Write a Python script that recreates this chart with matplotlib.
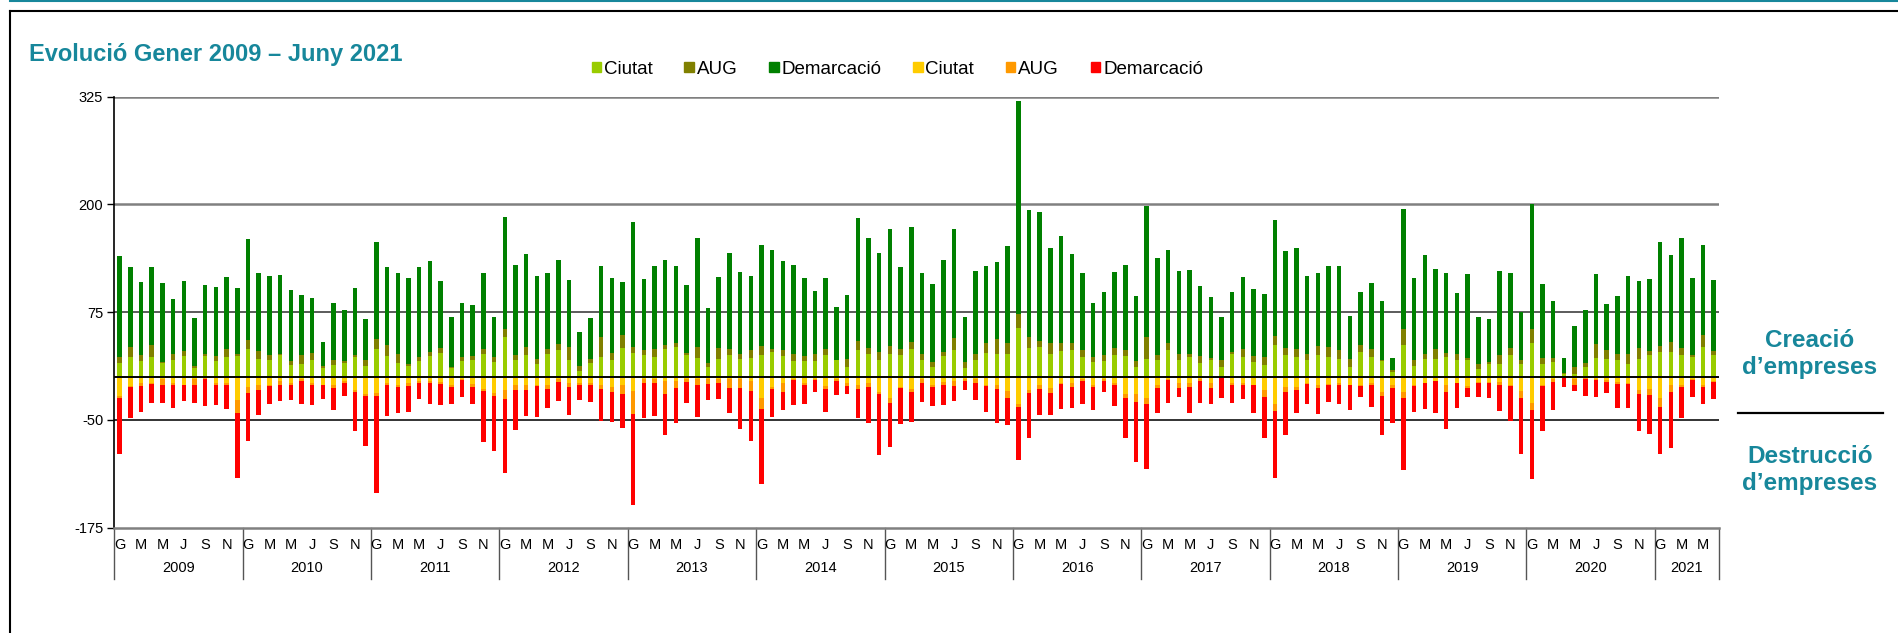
import numpy as np
import matplotlib
matplotlib.use("Agg")
import matplotlib.pyplot as plt
from matplotlib.patches import Patch
from matplotlib.lines import Line2D

plt.rcParams['font.family'] = ['Liberation Sans', 'DejaVu Sans']
plt.rcParams['axes.unicode_minus'] = False

# Data: monthly company creation (positive) and destruction (negative), Jan 2009 - Jun 2021
years = [str(y) for y in range(2009, 2022)]
month_labels = ['G', 'M', 'M', 'J', 'S', 'N']

# creation
ciutat_pos = [16, 23, 18, 23, 16, 20, 24, 10, 24, 18, 23, 24,
              32, 21, 20, 25, 14, 15, 19, 10, 14, 16, 23, 13,
              32, 24, 16, 13, 18, 24, 28, 10, 18, 20, 27, 17,
              46, 20, 25, 15, 27, 31, 19, 7, 16, 23, 19, 34,
              28, 25, 23, 32, 35, 25, 22, 12, 21, 25, 21, 22,
              25, 29, 24, 18, 18, 18, 25, 19, 12, 31, 27, 20,
              27, 25, 32, 20, 12, 24, 31, 10, 20, 28, 27, 27,
              57, 34, 35, 27, 30, 31, 23, 17, 18, 25, 24, 12,
              21, 20, 31, 19, 23, 16, 19, 12, 27, 23, 17, 14,
              37, 25, 23, 19, 25, 23, 21, 12, 29, 23, 18, 6,
              37, 13, 21, 21, 23, 19, 19, 9, 15, 15, 25, 15,
              39, 15, 17, 3, 3, 11, 22, 21, 20, 15, 21, 25,
              29, 29, 25, 23, 35, 25]
aug_pos = [7, 12, 7, 14, 1, 7, 6, 3, 3, 6, 9, 3,
           11, 9, 5, 1, 4, 10, 9, 3, 5, 2, 2, 6,
           12, 13, 10, 2, 5, 5, 5, 2, 5, 4, 5, 6,
           10, 5, 10, 6, 5, 7, 16, 6, 5, 23, 9, 14,
           7, 6, 9, 5, 4, 3, 13, 4, 12, 7, 6, 9,
           11, 3, 7, 9, 6, 8, 7, 0, 9, 11, 7, 9,
           9, 7, 9, 7, 5, 5, 14, 7, 7, 11, 17, 12,
           16, 12, 7, 12, 9, 8, 8, 6, 7, 8, 7, 6,
           25, 5, 8, 7, 4, 8, 3, 8, 2, 9, 7, 9,
           10, 8, 9, 7, 11, 12, 10, 9, 8, 9, 2, 2,
           19, 7, 5, 11, 5, 8, 3, 6, 2, 10, 9, 4,
           16, 7, 5, 2, 9, 5, 16, 10, 6, 12, 12, 5,
           7, 12, 9, 2, 13, 5]
dem_pos = [117, 93, 85, 90, 92, 63, 81, 55, 79, 80, 84, 76,
           117, 91, 92, 92, 83, 70, 64, 28, 67, 59, 78, 48,
           113, 91, 94, 100, 105, 105, 78, 58, 63, 59, 88, 46,
           130, 105, 107, 96, 89, 97, 77, 39, 47, 83, 87, 62,
           145, 82, 97, 98, 90, 78, 126, 64, 83, 112, 95, 86,
           117, 115, 103, 103, 91, 74, 83, 62, 74, 142, 127, 115,
           135, 96, 133, 93, 91, 106, 126, 52, 96, 90, 89, 113,
           247, 147, 149, 110, 124, 103, 90, 63, 73, 89, 99, 76,
           152, 113, 108, 97, 97, 81, 71, 50, 69, 84, 78, 73,
           135, 113, 118, 91, 84, 94, 98, 50, 62, 77, 68, 14,
           139, 95, 115, 93, 93, 70, 97, 54, 50, 98, 86, 56,
           146, 86, 66, 17, 47, 61, 81, 54, 68, 90, 78, 84,
           120, 100, 127, 90, 105, 82]

# destruction (magnitudes, drawn below zero)
ciutat_neg = [22, 11, 7, 7, 3, 7, 9, 3, 1, 7, 7, 27,
              12, 10, 9, 5, 7, 3, 7, 9, 9, 5, 15, 20,
              19, 7, 9, 7, 5, 5, 6, 9, 2, 8, 14, 19,
              15, 9, 9, 9, 9, 3, 7, 7, 7, 9, 12, 10,
              16, 3, 3, 5, 5, 3, 3, 3, 2, 3, 3, 5,
              25, 12, 7, 2, 7, 2, 11, 2, 7, 9, 7, 17,
              25, 12, 14, 3, 9, 6, 5, 2, 3, 9, 10, 16,
              31, 15, 9, 13, 7, 7, 3, 10, 3, 7, 20, 20,
              25, 10, 3, 7, 7, 2, 7, 0, 7, 7, 9, 15,
              31, 12, 12, 7, 10, 8, 7, 9, 9, 7, 17, 10,
              17, 9, 7, 5, 10, 7, 11, 6, 6, 6, 9, 16,
              30, 9, 3, 1, 2, 0, 2, 4, 6, 7, 15, 14,
              25, 10, 9, 3, 10, 5]
aug_neg = [3, 1, 4, 1, 7, 2, 0, 6, 1, 2, 3, 15,
           7, 5, 2, 4, 2, 2, 2, 1, 4, 2, 2, 2,
           3, 3, 3, 4, 2, 2, 2, 3, 2, 4, 2, 3,
           11, 6, 6, 2, 5, 3, 5, 3, 2, 5, 5, 10,
           27, 4, 4, 15, 8, 3, 6, 5, 5, 10, 10, 11,
           12, 2, 10, 2, 3, 2, 3, 3, 4, 5, 5, 3,
           5, 1, 3, 4, 3, 3, 6, 3, 4, 2, 4, 8,
           4, 4, 5, 6, 1, 5, 2, 2, 2, 3, 4, 9,
           7, 3, 1, 6, 5, 3, 6, 0, 3, 2, 1, 8,
           9, 6, 3, 1, 3, 2, 3, 1, 2, 3, 5, 3,
           8, 2, 0, 0, 8, 0, 2, 1, 1, 4, 2, 8,
           9, 2, 3, 0, 7, 3, 2, 2, 2, 1, 5, 7,
           10, 7, 3, 1, 2, 1]
dem_neg = [64, 36, 30, 22, 20, 27, 19, 21, 32, 24, 27, 75,
           55, 29, 21, 19, 18, 27, 24, 16, 25, 15, 46, 58,
           113, 35, 30, 30, 19, 24, 25, 20, 19, 20, 59, 64,
           85, 47, 30, 36, 22, 22, 32, 17, 20, 37, 35, 39,
           106, 41, 38, 47, 40, 24, 37, 19, 19, 29, 47, 58,
           87, 32, 22, 29, 21, 14, 27, 16, 9, 34, 41, 71,
           51, 42, 35, 22, 22, 24, 17, 10, 20, 30, 40, 32,
           61, 52, 30, 25, 29, 24, 27, 26, 13, 24, 47, 70,
           75, 29, 26, 10, 30, 25, 18, 25, 20, 17, 32, 48,
           77, 49, 27, 23, 30, 19, 22, 29, 12, 25, 45, 40,
           83, 30, 30, 37, 43, 29, 10, 16, 18, 30, 40, 66,
           80, 52, 32, 11, 7, 19, 19, 13, 28, 28, 43, 45,
           54, 66, 36, 19, 19, 20]

#Colours
teal = '#17879B'
c_lgreen, c_olive, c_dgreen = '#99CC00', '#808000', '#008000'
c_yellow, c_orange, c_red = '#FFCC00', '#FF9900', '#FF0000'

cp, ap, dp = np.array(ciutat_pos), np.array(aug_pos), np.array(dem_pos)
cn, an, dn = np.array(ciutat_neg), np.array(aug_neg), np.array(dem_neg)
n = len(cp)
x = np.arange(n)

W, H = 1899, 633
fig = plt.figure(figsize=(W / 100, H / 100), dpi=100)
ax = fig.add_axes([114.3 / W, 1 - 527.7 / H, (1719 - 114.3) / W, (527.7 - 96.7) / H])

bw = 0.42
# horizontal lines behind the bars
for val, col, lw in [(325, '#808080', 1.8), (200, '#808080', 1.8), (75, '#404040', 1.2),
                     (-50, '#111111', 1.2)]:
    ax.axhline(val, color=col, lw=lw, zorder=0.5)

ax.bar(x, cp, bw, color=c_lgreen, zorder=2)
ax.bar(x, ap, bw, bottom=cp, color=c_olive, zorder=2)
ax.bar(x, dp, bw, bottom=cp + ap, color=c_dgreen, zorder=2)
ax.bar(x, -cn, bw, color=c_yellow, zorder=2)
ax.bar(x, -an, bw, bottom=-cn, color=c_orange, zorder=2)
ax.bar(x, -dn, bw, bottom=-(cn + an), color=c_red, zorder=2)
ax.axhline(0, color='black', lw=1.4, zorder=4)

ax.set_xlim(-0.5, n - 0.5)
ax.set_ylim(-175, 325)
ax.set_yticks([-175, -50, 75, 200, 325])
ax.tick_params(axis='y', length=5, width=1, labelsize=10.5, pad=3, direction='out')
ax.set_xticks([])
for s in ['top', 'right']:
    ax.spines[s].set_visible(False)
ax.spines['left'].set_color('black')
ax.spines['left'].set_linewidth(1.2)
ax.spines['bottom'].set_color('#808080')
ax.spines['bottom'].set_linewidth(1.8)

# two level category axis: months below, years beneath with separators
trans = ax.get_xaxis_transform()
for i in range(0, n, 2):
    ax.text(i, -0.040, month_labels[(i % 12) // 2], transform=trans, ha='center', va='center',
            fontsize=10.5, clip_on=False)
for k, yr in enumerate(years):
    start = 12 * k - 0.5
    end = min(12 * k + 11.5, n - 0.5)
    ax.text((start + end) / 2, -0.0935, yr, transform=trans, ha='center', va='center',
            fontsize=10.5, clip_on=False)
    ax.plot([start, start], [0, -0.119], transform=trans, color='#555555', lw=1, clip_on=False)
ax.plot([n - 0.5, n - 0.5], [0, -0.119], transform=trans, color='#555555', lw=1, clip_on=False)

# title and legend
fig.text(29 / W, 1 - 61 / H, 'Evolució Gener 2009 – Juny 2021', color=teal, fontsize=17,
         fontweight='bold', ha='left', va='baseline')
handles = [Patch(color=c) for c in [c_lgreen, c_olive, c_dgreen, c_yellow, c_orange, c_red]]
labels = ['Ciutat', 'AUG', 'Demarcació', 'Ciutat', 'AUG', 'Demarcació']
fig.legend(handles, labels, loc='center', bbox_to_anchor=(0.4725, 1 - 69 / H), ncol=6,
           frameon=False, fontsize=13.5, handlelength=0.5, handleheight=0.5,
           handletextpad=0.15, columnspacing=1.7)

# right side annotations
xr = 1810 / W
fig.text(xr, 1 - 347 / H, 'Creació', color=teal, fontsize=17.5, fontweight='bold', ha='center', va='baseline')
fig.text(xr, 1 - 374 / H, 'd’empreses', color=teal, fontsize=17.5, fontweight='bold', ha='center', va='baseline')
fig.text(xr, 1 - 463 / H, 'Destrucció', color=teal, fontsize=17.5, fontweight='bold', ha='center', va='baseline')
fig.text(xr, 1 - 490 / H, 'd’empreses', color=teal, fontsize=17.5, fontweight='bold', ha='center', va='baseline')
fig.add_artist(Line2D([1738 / W, 1883 / W], [1 - 412.7 / H] * 2, transform=fig.transFigure,
                      color='black', lw=1.6))

# frame of the slide
fig.add_artist(Line2D([10 / W, 1], [1 - 1 / H] * 2, transform=fig.transFigure, color=teal, lw=1.5))
fig.add_artist(Line2D([9.5 / W, 1], [1 - 10.5 / H] * 2, transform=fig.transFigure, color='black', lw=1.5))
fig.add_artist(Line2D([9.5 / W, 9.5 / W], [0, 1 - 10.5 / H], transform=fig.transFigure, color='black', lw=1.5))

fig.savefig('out.png', dpi=100)
